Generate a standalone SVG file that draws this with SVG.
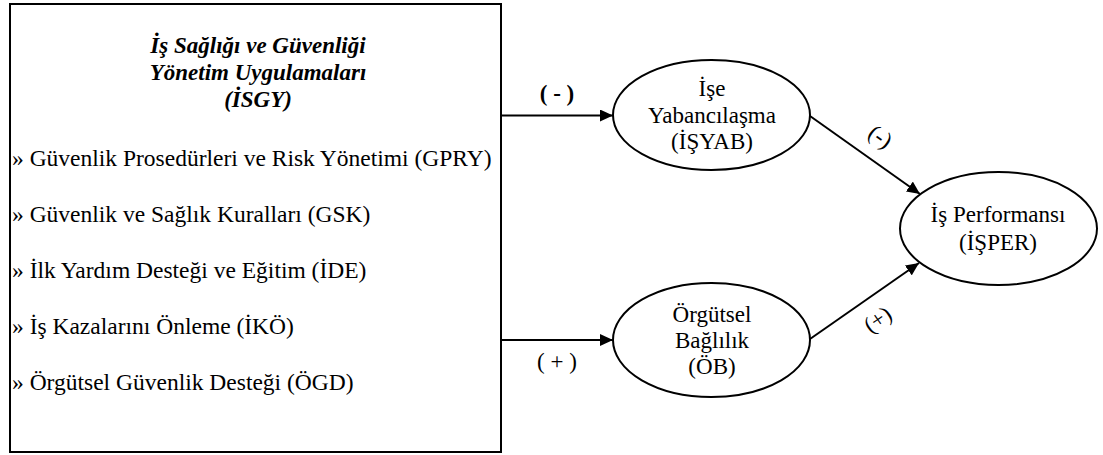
<svg xmlns="http://www.w3.org/2000/svg" width="1103" height="455" viewBox="0 0 1103 455">
<style>
  text { font-family: "Liberation Serif", "Times New Roman", serif; fill: #000; }
  .title { font-size: 23px; font-weight: bold; font-style: italic; text-anchor: middle; }
  .item { font-size: 23.5px; }
  .node { font-size: 23px; text-anchor: middle; }
  .lbl { font-size: 23px; text-anchor: middle; }
  .shape { fill: #fff; stroke: #000; stroke-width: 2; }
  .conn { stroke: #000; stroke-width: 2; fill: none; marker-end: url(#arrow); }
</style>
<defs>
  <marker id="arrow" markerUnits="userSpaceOnUse" markerWidth="14" markerHeight="12" refX="13" refY="6" orient="auto">
    <path d="M0,0 L13,6 L0,12 z" fill="#000"/>
  </marker>
</defs>
<rect width="1103" height="455" fill="#fff"/>
<g id="isgy">
  <rect class="shape" x="10" y="4" width="491" height="448"/>
  <text class="title" x="258" y="53">İş Sağlığı ve Güvenliği</text>
  <text class="title" x="258" y="80">Yönetim Uygulamaları</text>
  <text class="title" x="258" y="107">(İSGY)</text>
  <text class="item" x="12" y="166">» Güvenlik Prosedürleri ve Risk Yönetimi (GPRY)</text>
  <text class="item" x="12" y="222">» Güvenlik ve Sağlık Kuralları (GSK)</text>
  <text class="item" x="12" y="278">» İlk Yardım Desteği ve Eğitim (İDE)</text>
  <text class="item" x="12" y="334">» İş Kazalarını Önleme (İKÖ)</text>
  <text class="item" x="12" y="390">» Örgütsel Güvenlik Desteği (ÖGD)</text>
</g>
<g id="connectors">
  <line class="conn" x1="501" y1="115.5" x2="613" y2="115.5"/>
  <line class="conn" x1="501" y1="340" x2="613" y2="340"/>
  <line class="conn" x1="810" y1="116" x2="920" y2="194"/>
  <line class="conn" x1="810" y1="339" x2="919" y2="263"/>
  <text class="lbl" x="557" y="101" font-weight="bold">( - )</text>
  <text class="lbl" x="557" y="369">( + )</text>
  <text class="lbl" transform="translate(880,137) rotate(35)" y="7">(-)</text>
  <text class="lbl" transform="translate(878,320) rotate(-35)" y="7">(+)</text>
</g>
<g id="isyab">
  <ellipse class="shape" cx="711.5" cy="115" rx="98.5" ry="55"/>
  <text class="node" x="712" y="96">İşe</text>
  <text class="node" x="712" y="123">Yabancılaşma</text>
  <text class="node" x="712" y="149">(İŞYAB)</text>
</g>
<g id="ob">
  <ellipse class="shape" cx="711.5" cy="340" rx="98.5" ry="57"/>
  <text class="node" x="712" y="322">Örgütsel</text>
  <text class="node" x="712" y="348">Bağlılık</text>
  <text class="node" x="712" y="374">(ÖB)</text>
</g>
<g id="isper">
  <ellipse class="shape" cx="998.5" cy="228.5" rx="98.5" ry="56.5"/>
  <text class="node" x="998" y="222">İş Performansı</text>
  <text class="node" x="998" y="250">(İŞPER)</text>
</g>
</svg>
